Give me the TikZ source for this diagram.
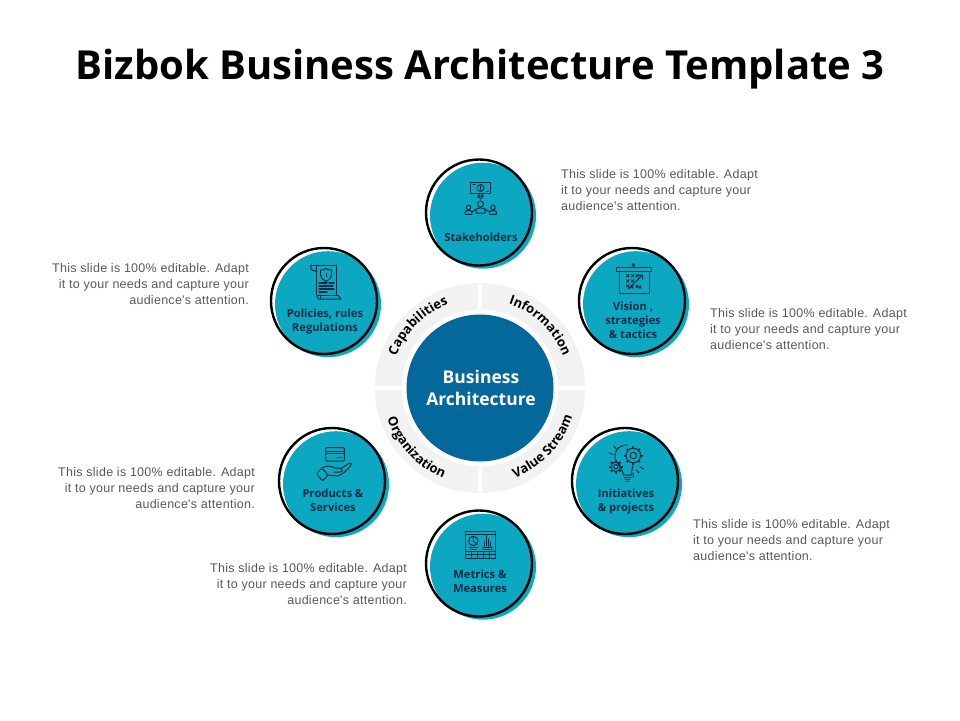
\documentclass[tikz,border=0pt]{standalone}
\usepackage{fontspec}
\setmainfont{Liberation Sans}
\newfontfamily\bodyfont[LetterSpace=2.2]{Liberation Sans}
\newfontfamily\headfont{Open Sans}
\usetikzlibrary{decorations.text}
\definecolor{teal1}{HTML}{0CA7C0}
\definecolor{blue1}{HTML}{05689B}
\definecolor{ink}{HTML}{0B2B45}
\definecolor{ringg}{HTML}{F2F2F2}
\definecolor{bodyg}{HTML}{595959}
\newcommand{\bodytext}{This slide is 100\% editable. Adapt\\it to your needs and capture your\\audience's attention.}
\newcommand{\arcfont}{\headfont\bfseries\fontsize{13}{15}\selectfont\color{black}}
\tikzset{
  x=1pt,y=-1pt,
  shadowdisc/.style={fill=teal1,draw=none},
  outline/.style={draw=black,line width=2.4pt},
  lab/.style={font=\headfont\bfseries\fontsize{11.2}{14}\selectfont,text=ink,align=center,inner sep=0pt},
  desc/.style={font=\bodyfont\fontsize{12.5}{16}\selectfont,text=bodyg,inner sep=0pt},
  descL/.style={desc,align=left,anchor=west},
  descR/.style={desc,align=right,anchor=east},
  ico/.style={draw=ink,line width=1pt,line join=round,line cap=round},
  arclabel/.style={decorate,decoration={text along path,text align=center,text={|\arcfont|#1}}}
}
\newcommand{\bubble}[2]{%
  \fill[shadowdisc] (#1+4,#2+3.2) circle[radius=53];
  \draw[outline] (#1,#2) circle[radius=53];
}
\newcommand{\gearat}[3]{%
  \draw[ico] (#1,#2) circle[radius=#3];
  \draw[ico] (#1,#2) circle[radius=#3*0.45];
  \foreach \a in {0,45,...,315}{\draw[ico,line width=2pt,line cap=butt] (#1,#2) ++(\a:#3) -- ++(\a:2);}
}
\newcommand{\xmark}[2]{\draw[ico,line width=0.8pt] (#1-1.3,#2-1.3)--(#1+1.3,#2+1.3) (#1-1.3,#2+1.3)--(#1+1.3,#2-1.3);}
\newcommand{\person}[3]{%
  \draw[ico] (#1,#2) circle[radius=#3];
  \draw[ico] (#1-#3*1.5,#2+#3*3) -- (#1-#3*1.5,#2+#3*1.9) .. controls (#1-#3*1.2,#2+#3*1.1) and (#1+#3*1.2,#2+#3*1.1) .. (#1+#3*1.5,#2+#3*1.9) -- (#1+#3*1.5,#2+#3*3) -- cycle;
}
\begin{document}
\begin{tikzpicture}
\useasboundingbox (0,0) rectangle (960,720);
\fill[white] (0,0) rectangle (960,720);

\node[font=\headfont\bfseries\fontsize{40}{48}\selectfont,text=black,inner sep=0pt] (title) at (480,69) {Bizbok Business Architecture Template 3};

% ring
\fill[ringg,even odd rule] (480,388) circle[radius=105] (480,388) circle[radius=78.5];
\draw[white,line width=4pt] (480,282)--(480,309.5) (480,466.5)--(480,494) (374,388)--(401.5,388) (558.5,388)--(586,388);
\node[circle,fill=blue1,minimum size=147pt,inner sep=0pt] (core) at (480,388) {};
\node[font=\headfont\bfseries\fontsize{17.5}{22.5}\selectfont,text=white,align=center,inner sep=0pt] (coretext) at (481,388) {Business\\Architecture};

% curved labels
\path[arclabel={Capabilities}] (480,388) ++(180:89.5pt) arc[start angle=180,end angle=90,radius=89.5pt];
\path[arclabel={Information}] (480,388) ++(91:89pt) arc[start angle=91,end angle=1,radius=89pt];
\path[arclabel={Value{ }Stream}] (480,388) ++(-88:96.5pt) arc[start angle=-88,end angle=2,radius=96.5pt];
\path[arclabel={Organization}] (480,388) ++(178:97.5pt) arc[start angle=178,end angle=268,radius=97.5pt];

% bubbles
\bubble{479}{212.5}
\bubble{632}{301}
\bubble{625}{481}
\bubble{479}{563.5}
\bubble{332}{481}
\bubble{324}{301}

% labels
\node[lab] (l1) at (481,237) {Stakeholders};
\node[lab] (l2) at (633,320) {Vision ,\\strategies\\\& tactics};
\node[lab] (l3) at (626,502) {Initiatives\\\& projects};
\node[lab] (l4) at (480,581) {Metrics \&\\Measures};
\node[lab] (l5) at (333,500) {Products \&\\Services};
\node[lab] (l6) at (325,321.5) {Policies, rules\\Regulations};

% descriptions
\node[descL] (d1) at (561,190.5) {\bodytext};
\node[descL] (d2) at (710,329.5) {\bodytext};
\node[descL] (d3) at (693,540.5) {\bodytext};
\node[descR] (d4) at (407,584.5) {\bodytext};
\node[descR] (d5) at (255,488.5) {\bodytext};
\node[descR] (d6) at (249,284.5) {\bodytext};

% icon: stakeholders
\draw[ico] (470.7,182.7) rectangle (490.7,193.3);
\draw[ico] (480.5,188) circle[radius=3.4];
\draw[ico] (473,184.8)--(475,184.8) (486,191.2)--(488.5,191.2);
\draw[ico,line width=0.7pt] (480.5,186)--(480.5,190);
\draw[ico] (478.8,193.3)--(478.8,196) (482.2,193.3)--(482.2,196) (477.6,196)--(480.5,199)--(483.4,196)--cycle;
\person{480.5}{204}{3}
\person{468.5}{207.5}{2.3}
\person{493}{207.5}{2.3}
\draw[ico] (472,212)--(476,209) (485,209)--(489.5,212);
% icon: vision
\draw[ico] (616.7,267.7) rectangle (651,271);
\draw[ico] (619,271) rectangle (649,293.3);
\draw[ico] (633.3,265) circle[radius=1.3];
\foreach \p/\q in {627.7/275.7,632.5/275.7,637/275.7,627.7/281,632.5/281,637/286.5,632/287,640/287,627.7/286}{\xmark{\p}{\q}}
\draw[ico] (628,289)--(642,275.5) (638.5,275)--(642.5,275)--(642.5,279);
% icon: initiatives
\draw[ico] (623.5,475) .. controls (622,466) and (615,464) .. (615,456) .. controls (615,449) and (620,445) .. (627,445);
\draw[ico] (633,466) .. controls (632,469) and (631.3,472) .. (631.3,475) -- (623.5,475);
\draw[ico] (624,477)--(631,477) (625,479)--(630,479) (626,481)--(629,481);
\gearat{633.3}{455.5}{7.3}
\gearat{615.7}{466.7}{4.8}
\draw[ico] (609,453)--(613,454.5) (614,446)--(616.5,449.5) (636.5,470)--(639,473) (633,473)--(633,477) (640,467)--(643.5,469);
% icon: metrics
\draw[ico] (465.7,531.3) rectangle (495,558);
\draw[ico] (465.7,534) -- (495,534);
\draw[ico] (473.3,541) circle[radius=4.7];
\draw[ico] (473.3,541)--(473.3,537.5) (473.3,541)--(476,543);
\draw[ico] (469,547.5)--(478,547.5) (471,549.5)--(476,549.5);
\draw[ico] (482.5,547)--(492,547) (482.5,549.5)--(492,549.5);
\draw[ico] (484,546)--(484,541) (486,546)--(486,535.5) (488,546)--(488,539) (490,546)--(490,542);
\draw[ico] (465.7,551.5)--(495,551.5) (465.7,554.8)--(495,554.8);
\foreach \p in {471,477,483,489}{\draw[ico,line width=0.7pt] (\p,551.5)--(\p,558);}
% icon: products
\draw[ico,rounded corners=1pt] (325.7,447.7) rectangle (344.3,461);
\draw[ico] (325.7,451)--(344.3,451) (325.7,453.6)--(344.3,453.6);
\draw[ico] (337,457.7)--(341.5,457.7);
\draw[ico,rounded corners=1.2pt] (316.5,473.5)--(322,468)--(328,475)--(322.5,481)--cycle;
\draw[ico] (322,468) .. controls (327,465) and (331,466) .. (335,468) -- (341,468.5) .. controls (343,469) and (343,472) .. (340,472) -- (334,472);
\draw[ico] (341,468.5) -- (349,463.5) .. controls (352,462.5) and (352,465) .. (350,466.5) .. controls (346,471) and (342,475) .. (337,476) -- (328,475);
% icon: policies
\draw[ico] (316,265) -- (316,295) (336,265) -- (336,295) -- (320,295);
\draw[ico] (311,265) -- (336,265);
\draw[ico] (311,265) .. controls (310,268) and (311,271) .. (316,271);
\draw[ico] (320,295) .. controls (316,295) and (316,299) .. (320,299) -- (341,299) .. controls (340,298) and (340,296) .. (336,295);
\draw[ico] (320,295)--(320,299);
\draw[ico] (326,268.5) .. controls (328,270) and (330,270) .. (331.5,270) ;
\draw[ico] (326,268.5) .. controls (324,270) and (322,270) .. (320.5,270) -- (320.5,274) .. controls (320.5,278) and (323,280) .. (326,281.5) .. controls (329,280) and (331.5,278) .. (331.5,274) -- (331.5,270);
\draw[ico,line width=0.7pt] (326,273)--(326,277);
\draw[ico,line width=1.1pt] (319,283)--(327,283) (329,283)--(334,283) (319,286)--(333,286) (319,289)--(334,289) (319,292)--(327,292);
\end{tikzpicture}
\end{document}
